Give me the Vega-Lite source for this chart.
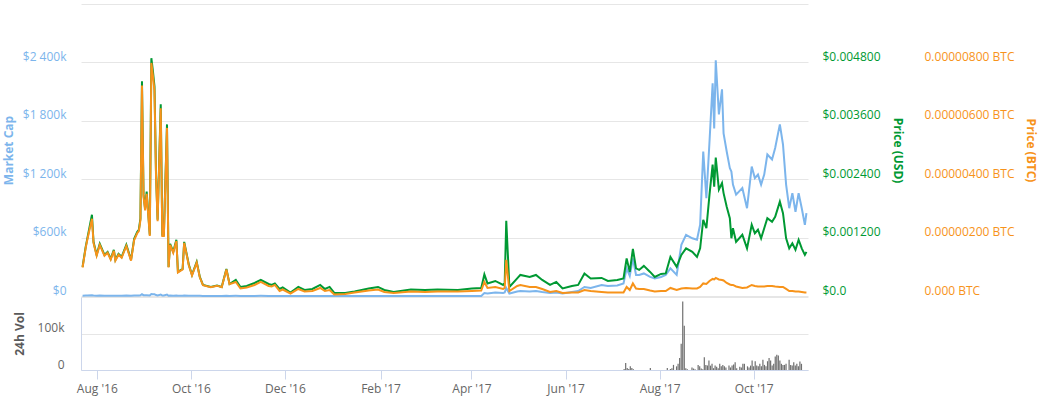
{
  "$schema": "https://vega.github.io/schema/vega-lite/v6.json",
  "padding": {"left": 2, "top": 4, "right": 5, "bottom": 3},
  "spacing": 1,
  "bounds": "flush",
  "config": {
    "view": {"stroke": null},
    "font": "Open Sans",
    "axis": {"labelFont": "Open Sans", "titleFont": "Open Sans", "labelFontSize": 12, "titleFontSize": 12, "titleFontWeight": "bold", "gridColor": "#e6e6e6", "ticks": false, "domain": false}
  },
  "datasets": {
    "p": [
      {"date": "2016-07-26", "mc": 2400, "usd": 0.000598, "btc": 9.76e-7},
      {"date": "2016-07-28", "mc": 4040, "usd": 0.001010, "btc": 1.650e-6},
      {"date": "2016-07-29", "mc": 4700, "usd": 0.001175, "btc": 1.919e-6},
      {"date": "2016-08-01", "mc": 6680, "usd": 0.001670, "btc": 2.646e-6},
      {"date": "2016-08-02", "mc": 4450, "usd": 0.001113, "btc": 1.818e-6},
      {"date": "2016-08-04", "mc": 3380, "usd": 0.000845, "btc": 1.380e-6},
      {"date": "2016-08-06", "mc": 4290, "usd": 0.001072, "btc": 1.751e-6},
      {"date": "2016-08-09", "mc": 3380, "usd": 0.000845, "btc": 1.380e-6},
      {"date": "2016-08-11", "mc": 3630, "usd": 0.000907, "btc": 1.481e-6},
      {"date": "2016-08-13", "mc": 3050, "usd": 0.000763, "btc": 1.246e-6},
      {"date": "2016-08-15", "mc": 3800, "usd": 0.000949, "btc": 1.549e-6},
      {"date": "2016-08-16", "mc": 2970, "usd": 0.000742, "btc": 1.212e-6},
      {"date": "2016-08-18", "mc": 3460, "usd": 0.000866, "btc": 1.414e-6},
      {"date": "2016-08-20", "mc": 3220, "usd": 0.000804, "btc": 1.313e-6},
      {"date": "2016-08-23", "mc": 4210, "usd": 0.001052, "btc": 1.717e-6},
      {"date": "2016-08-26", "mc": 2970, "usd": 0.000742, "btc": 1.212e-6},
      {"date": "2016-08-28", "mc": 4700, "usd": 0.001175, "btc": 1.919e-6},
      {"date": "2016-08-30", "mc": 5280, "usd": 0.001320, "btc": 2.155e-6},
      {"date": "2016-08-31", "mc": 5440, "usd": 0.001361, "btc": 2.222e-6},
      {"date": "2016-09-01", "mc": 6350, "usd": 0.001588, "btc": 2.593e-6},
      {"date": "2016-09-02", "mc": 17650, "usd": 0.004413, "btc": 7.205e-6},
      {"date": "2016-09-03", "mc": 8330, "usd": 0.002083, "btc": 3.401e-6},
      {"date": "2016-09-04", "mc": 7180, "usd": 0.001794, "btc": 2.929e-6},
      {"date": "2016-09-05", "mc": 8580, "usd": 0.002144, "btc": 3.502e-6},
      {"date": "2016-09-07", "mc": 5030, "usd": 0.001258, "btc": 2.054e-6},
      {"date": "2016-09-08", "mc": 19550, "usd": 0.004887, "btc": 7.980e-6},
      {"date": "2016-09-09", "mc": 18480, "usd": 0.004619, "btc": 7.542e-6},
      {"date": "2016-09-10", "mc": 17240, "usd": 0.004309, "btc": 7.037e-6},
      {"date": "2016-09-11", "mc": 9900, "usd": 0.002474, "btc": 4.040e-6},
      {"date": "2016-09-12", "mc": 6270, "usd": 0.001567, "btc": 2.559e-6},
      {"date": "2016-09-14", "mc": 15750, "usd": 0.003938, "btc": 6.431e-6},
      {"date": "2016-09-15", "mc": 5030, "usd": 0.001258, "btc": 2.054e-6},
      {"date": "2016-09-16", "mc": 5030, "usd": 0.001258, "btc": 2.054e-6},
      {"date": "2016-09-18", "mc": 14100, "usd": 0.003526, "btc": 5.757e-6},
      {"date": "2016-09-19", "mc": 2390, "usd": 0.000598, "btc": 9.76e-7},
      {"date": "2016-09-20", "mc": 4290, "usd": 0.001072, "btc": 1.751e-6},
      {"date": "2016-09-22", "mc": 3630, "usd": 0.000907, "btc": 1.481e-6},
      {"date": "2016-09-24", "mc": 4620, "usd": 0.001155, "btc": 1.886e-6},
      {"date": "2016-09-25", "mc": 1980, "usd": 0.000495, "btc": 8.08e-7},
      {"date": "2016-09-28", "mc": 2230, "usd": 0.000557, "btc": 9.09e-7},
      {"date": "2016-09-29", "mc": 4450, "usd": 0.001113, "btc": 1.818e-6},
      {"date": "2016-10-02", "mc": 2560, "usd": 0.000639, "btc": 1.044e-6},
      {"date": "2016-10-04", "mc": 1730, "usd": 0.000433, "btc": 7.07e-7},
      {"date": "2016-10-07", "mc": 2800, "usd": 0.000701, "btc": 1.145e-6},
      {"date": "2016-10-09", "mc": 1570, "usd": 0.000392, "btc": 6.40e-7},
      {"date": "2016-10-11", "mc": 910, "usd": 0.000227, "btc": 3.70e-7},
      {"date": "2016-10-16", "mc": 740, "usd": 0.000186, "btc": 3.03e-7},
      {"date": "2016-10-20", "mc": 870, "usd": 0.000217, "btc": 3.54e-7},
      {"date": "2016-10-23", "mc": 740, "usd": 0.000186, "btc": 3.03e-7},
      {"date": "2016-10-26", "mc": 2230, "usd": 0.000557, "btc": 9.09e-7},
      {"date": "2016-10-28", "mc": 990, "usd": 0.000247, "btc": 4.04e-7},
      {"date": "2016-11-01", "mc": 1320, "usd": 0.000330, "btc": 4.81e-7},
      {"date": "2016-11-04", "mc": 740, "usd": 0.000186, "btc": 2.58e-7},
      {"date": "2016-11-08", "mc": 820, "usd": 0.000206, "btc": 2.92e-7},
      {"date": "2016-11-13", "mc": 1070, "usd": 0.000268, "btc": 3.78e-7},
      {"date": "2016-11-17", "mc": 1320, "usd": 0.000330, "btc": 4.81e-7},
      {"date": "2016-11-22", "mc": 990, "usd": 0.000247, "btc": 3.44e-7},
      {"date": "2016-11-24", "mc": 910, "usd": 0.000227, "btc": 3.26e-7},
      {"date": "2016-11-26", "mc": 1030, "usd": 0.000258, "btc": 3.78e-7},
      {"date": "2016-11-29", "mc": 580, "usd": 0.000144, "btc": 1.72e-7},
      {"date": "2016-12-01", "mc": 700, "usd": 0.000175, "btc": 2.23e-7},
      {"date": "2016-12-06", "mc": 290, "usd": 0.0000722, "btc": 8.6e-8},
      {"date": "2016-12-11", "mc": 740, "usd": 0.000186, "btc": 2.41e-7},
      {"date": "2016-12-15", "mc": 500, "usd": 0.000124, "btc": 1.55e-7},
      {"date": "2016-12-20", "mc": 580, "usd": 0.000144, "btc": 1.72e-7},
      {"date": "2016-12-25", "mc": 910, "usd": 0.000227, "btc": 2.75e-7},
      {"date": "2016-12-28", "mc": 580, "usd": 0.000144, "btc": 1.72e-7},
      {"date": "2016-12-31", "mc": 740, "usd": 0.000186, "btc": 2.06e-7},
      {"date": "2017-01-03", "mc": 250, "usd": 0.0000619, "btc": 5.2e-8},
      {"date": "2017-01-10", "mc": 250, "usd": 0.0000619, "btc": 6.9e-8},
      {"date": "2017-01-16", "mc": 370, "usd": 0.0000928, "btc": 1.20e-7},
      {"date": "2017-01-25", "mc": 620, "usd": 0.000155, "btc": 1.89e-7},
      {"date": "2017-01-31", "mc": 740, "usd": 0.000186, "btc": 2.23e-7},
      {"date": "2017-02-04", "mc": 500, "usd": 0.000124, "btc": 1.37e-7},
      {"date": "2017-02-10", "mc": 330, "usd": 0.0000825, "btc": 1.03e-7},
      {"date": "2017-02-21", "mc": 540, "usd": 0.000134, "btc": 1.55e-7},
      {"date": "2017-03-02", "mc": 500, "usd": 0.000124, "btc": 1.37e-7},
      {"date": "2017-03-10", "mc": 540, "usd": 0.000134, "btc": 1.55e-7},
      {"date": "2017-03-23", "mc": 500, "usd": 0.000124, "btc": 1.55e-7},
      {"date": "2017-04-01", "mc": 620, "usd": 0.000155, "btc": 1.72e-7},
      {"date": "2017-04-07", "mc": 660, "usd": 0.000165, "btc": 1.89e-7},
      {"date": "2017-04-09", "mc": 30900, "usd": 0.000443, "btc": 4.81e-7},
      {"date": "2017-04-11", "mc": 25800, "usd": 0.000258, "btc": 2.75e-7},
      {"date": "2017-04-16", "mc": 36100, "usd": 0.000309, "btc": 3.09e-7},
      {"date": "2017-04-21", "mc": 30900, "usd": 0.000227, "btc": 2.41e-7},
      {"date": "2017-04-22", "mc": 36100, "usd": 0.000268, "btc": 2.75e-7},
      {"date": "2017-04-23", "mc": 82500, "usd": 0.001547, "btc": 1.237e-6},
      {"date": "2017-04-25", "mc": 25800, "usd": 0.000186, "btc": 1.72e-7},
      {"date": "2017-04-30", "mc": 46400, "usd": 0.000361, "btc": 3.44e-7},
      {"date": "2017-05-02", "mc": 51500, "usd": 0.000433, "btc": 3.78e-7},
      {"date": "2017-05-08", "mc": 46400, "usd": 0.000392, "btc": 3.09e-7},
      {"date": "2017-05-12", "mc": 51500, "usd": 0.000433, "btc": 3.09e-7},
      {"date": "2017-05-16", "mc": 41200, "usd": 0.000330, "btc": 2.41e-7},
      {"date": "2017-05-21", "mc": 30900, "usd": 0.000227, "btc": 1.37e-7},
      {"date": "2017-05-25", "mc": 36100, "usd": 0.000289, "btc": 1.72e-7},
      {"date": "2017-05-29", "mc": 25800, "usd": 0.000155, "btc": 1.03e-7},
      {"date": "2017-06-04", "mc": 41200, "usd": 0.000206, "btc": 1.20e-7},
      {"date": "2017-06-08", "mc": 51500, "usd": 0.000227, "btc": 1.20e-7},
      {"date": "2017-06-12", "mc": 92800, "usd": 0.000464, "btc": 2.06e-7},
      {"date": "2017-06-16", "mc": 82500, "usd": 0.000361, "btc": 1.72e-7},
      {"date": "2017-06-23", "mc": 113400, "usd": 0.000371, "btc": 1.37e-7},
      {"date": "2017-06-27", "mc": 103100, "usd": 0.000309, "btc": 1.20e-7},
      {"date": "2017-07-03", "mc": 108200, "usd": 0.000330, "btc": 1.20e-7},
      {"date": "2017-07-07", "mc": 128900, "usd": 0.000361, "btc": 1.20e-7},
      {"date": "2017-07-09", "mc": 283500, "usd": 0.000773, "btc": 3.09e-7},
      {"date": "2017-07-11", "mc": 206200, "usd": 0.000495, "btc": 2.06e-7},
      {"date": "2017-07-13", "mc": 386600, "usd": 0.000969, "btc": 4.30e-7},
      {"date": "2017-07-15", "mc": 216500, "usd": 0.000567, "btc": 2.58e-7},
      {"date": "2017-07-17", "mc": 216500, "usd": 0.000536, "btc": 2.41e-7},
      {"date": "2017-07-20", "mc": 231900, "usd": 0.000619, "btc": 2.41e-7},
      {"date": "2017-07-24", "mc": 195900, "usd": 0.000495, "btc": 1.89e-7},
      {"date": "2017-07-27", "mc": 180400, "usd": 0.000392, "btc": 1.55e-7},
      {"date": "2017-07-31", "mc": 195900, "usd": 0.000454, "btc": 1.72e-7},
      {"date": "2017-08-03", "mc": 216500, "usd": 0.000464, "btc": 1.72e-7},
      {"date": "2017-08-06", "mc": 283500, "usd": 0.000804, "btc": 2.75e-7},
      {"date": "2017-08-10", "mc": 216500, "usd": 0.000598, "btc": 2.06e-7},
      {"date": "2017-08-13", "mc": 525800, "usd": 0.000845, "btc": 2.58e-7},
      {"date": "2017-08-16", "mc": 628800, "usd": 0.000979, "btc": 2.75e-7},
      {"date": "2017-08-20", "mc": 592800, "usd": 0.000907, "btc": 2.58e-7},
      {"date": "2017-08-23", "mc": 577300, "usd": 0.000804, "btc": 2.58e-7},
      {"date": "2017-08-25", "mc": 731900, "usd": 0.000979, "btc": 3.09e-7},
      {"date": "2017-08-27", "mc": 1484500, "usd": 0.001567, "btc": 4.30e-7},
      {"date": "2017-08-29", "mc": 1005100, "usd": 0.001392, "btc": 4.12e-7},
      {"date": "2017-08-31", "mc": 1587600, "usd": 0.002083, "btc": 5.15e-7},
      {"date": "2017-09-02", "mc": 2185500, "usd": 0.002701, "btc": 5.84e-7},
      {"date": "2017-09-03", "mc": 1721600, "usd": 0.002248, "btc": 5.67e-7},
      {"date": "2017-09-04", "mc": 2422600, "usd": 0.002846, "btc": 6.19e-7},
      {"date": "2017-09-06", "mc": 1865900, "usd": 0.002186, "btc": 5.67e-7},
      {"date": "2017-09-08", "mc": 2123700, "usd": 0.002320, "btc": 5.50e-7},
      {"date": "2017-09-09", "mc": 1670100, "usd": 0.002114, "btc": 5.33e-7},
      {"date": "2017-09-11", "mc": 1484500, "usd": 0.001835, "btc": 4.47e-7},
      {"date": "2017-09-13", "mc": 1314400, "usd": 0.001598, "btc": 3.95e-7},
      {"date": "2017-09-14", "mc": 1278300, "usd": 0.001186, "btc": 3.78e-7},
      {"date": "2017-09-15", "mc": 1144300, "usd": 0.001392, "btc": 3.78e-7},
      {"date": "2017-09-17", "mc": 1041200, "usd": 0.001113, "btc": 3.26e-7},
      {"date": "2017-09-21", "mc": 1108200, "usd": 0.001258, "btc": 2.75e-7},
      {"date": "2017-09-24", "mc": 902000, "usd": 0.000979, "btc": 2.92e-7},
      {"date": "2017-09-27", "mc": 1329900, "usd": 0.001464, "btc": 3.78e-7},
      {"date": "2017-09-29", "mc": 1211300, "usd": 0.001289, "btc": 3.44e-7},
      {"date": "2017-10-01", "mc": 1247400, "usd": 0.001361, "btc": 3.26e-7},
      {"date": "2017-10-03", "mc": 1144300, "usd": 0.001186, "btc": 3.26e-7},
      {"date": "2017-10-05", "mc": 1247400, "usd": 0.001392, "btc": 3.26e-7},
      {"date": "2017-10-07", "mc": 1453600, "usd": 0.001598, "btc": 3.44e-7},
      {"date": "2017-10-10", "mc": 1402000, "usd": 0.001526, "btc": 3.44e-7},
      {"date": "2017-10-12", "mc": 1520600, "usd": 0.001629, "btc": 3.26e-7},
      {"date": "2017-10-15", "mc": 1762800, "usd": 0.001938, "btc": 3.09e-7},
      {"date": "2017-10-17", "mc": 1556700, "usd": 0.001701, "btc": 3.09e-7},
      {"date": "2017-10-19", "mc": 1144300, "usd": 0.001186, "btc": 2.41e-7},
      {"date": "2017-10-21", "mc": 902000, "usd": 0.000979, "btc": 1.72e-7},
      {"date": "2017-10-23", "mc": 1056700, "usd": 0.001083, "btc": 1.72e-7},
      {"date": "2017-10-25", "mc": 866000, "usd": 0.000949, "btc": 1.55e-7},
      {"date": "2017-10-27", "mc": 1056700, "usd": 0.001155, "btc": 1.55e-7},
      {"date": "2017-10-29", "mc": 902000, "usd": 0.000979, "btc": 1.37e-7},
      {"date": "2017-10-31", "mc": 731900, "usd": 0.000845, "btc": 1.20e-7},
      {"date": "2017-11-01", "mc": 850500, "usd": 0.000907, "btc": 1.20e-7}
    ],
    "v": [
      {"date": "2017-07-09", "vol": 3000},
      {"date": "2017-07-10", "vol": 19000},
      {"date": "2017-07-11", "vol": 5500},
      {"date": "2017-07-12", "vol": 3000},
      {"date": "2017-07-13", "vol": 10000},
      {"date": "2017-07-14", "vol": 5500},
      {"date": "2017-07-15", "vol": 2000},
      {"date": "2017-07-26", "vol": 5500},
      {"date": "2017-08-06", "vol": 5500},
      {"date": "2017-08-08", "vol": 2500},
      {"date": "2017-08-09", "vol": 5000},
      {"date": "2017-08-10", "vol": 14000},
      {"date": "2017-08-12", "vol": 10000},
      {"date": "2017-08-13", "vol": 17000},
      {"date": "2017-08-14", "vol": 33000},
      {"date": "2017-08-15", "vol": 72000},
      {"date": "2017-08-16", "vol": 188000},
      {"date": "2017-08-17", "vol": 121000},
      {"date": "2017-08-18", "vol": 5000},
      {"date": "2017-08-19", "vol": 2000},
      {"date": "2017-08-22", "vol": 7000},
      {"date": "2017-08-23", "vol": 4000},
      {"date": "2017-08-24", "vol": 2000},
      {"date": "2017-08-26", "vol": 14000},
      {"date": "2017-08-27", "vol": 10000},
      {"date": "2017-08-28", "vol": 4000},
      {"date": "2017-08-29", "vol": 2000},
      {"date": "2017-08-30", "vol": 35000},
      {"date": "2017-08-31", "vol": 14000},
      {"date": "2017-09-01", "vol": 12000},
      {"date": "2017-09-02", "vol": 26000},
      {"date": "2017-09-03", "vol": 12000},
      {"date": "2017-09-04", "vol": 17000},
      {"date": "2017-09-05", "vol": 5000},
      {"date": "2017-09-06", "vol": 12000},
      {"date": "2017-09-07", "vol": 9000},
      {"date": "2017-09-08", "vol": 5000},
      {"date": "2017-09-09", "vol": 17000},
      {"date": "2017-09-10", "vol": 10000},
      {"date": "2017-09-11", "vol": 14000},
      {"date": "2017-09-12", "vol": 10000},
      {"date": "2017-09-13", "vol": 7000},
      {"date": "2017-09-15", "vol": 12000},
      {"date": "2017-09-16", "vol": 7000},
      {"date": "2017-09-17", "vol": 12000},
      {"date": "2017-09-18", "vol": 15000},
      {"date": "2017-09-19", "vol": 21000},
      {"date": "2017-09-20", "vol": 5000},
      {"date": "2017-09-22", "vol": 9000},
      {"date": "2017-09-23", "vol": 7000},
      {"date": "2017-09-24", "vol": 17000},
      {"date": "2017-09-25", "vol": 17000},
      {"date": "2017-09-27", "vol": 10000},
      {"date": "2017-09-28", "vol": 7000},
      {"date": "2017-09-29", "vol": 12000},
      {"date": "2017-09-30", "vol": 26000},
      {"date": "2017-10-01", "vol": 10000},
      {"date": "2017-10-02", "vol": 24000},
      {"date": "2017-10-03", "vol": 12000},
      {"date": "2017-10-04", "vol": 10000},
      {"date": "2017-10-05", "vol": 17000},
      {"date": "2017-10-06", "vol": 10000},
      {"date": "2017-10-07", "vol": 28000},
      {"date": "2017-10-08", "vol": 14000},
      {"date": "2017-10-09", "vol": 10000},
      {"date": "2017-10-10", "vol": 24000},
      {"date": "2017-10-11", "vol": 33000},
      {"date": "2017-10-12", "vol": 26000},
      {"date": "2017-10-13", "vol": 12000},
      {"date": "2017-10-14", "vol": 17000},
      {"date": "2017-10-15", "vol": 37000},
      {"date": "2017-10-16", "vol": 42000},
      {"date": "2017-10-17", "vol": 40000},
      {"date": "2017-10-18", "vol": 26000},
      {"date": "2017-10-19", "vol": 17000},
      {"date": "2017-10-20", "vol": 14000},
      {"date": "2017-10-21", "vol": 14000},
      {"date": "2017-10-22", "vol": 17000},
      {"date": "2017-10-24", "vol": 28000},
      {"date": "2017-10-25", "vol": 14000},
      {"date": "2017-10-26", "vol": 12000},
      {"date": "2017-10-27", "vol": 21000},
      {"date": "2017-10-28", "vol": 12000},
      {"date": "2017-10-29", "vol": 17000},
      {"date": "2017-10-30", "vol": 10000},
      {"date": "2017-10-31", "vol": 23000},
      {"date": "2017-11-01", "vol": 17000}
    ]
  },
  "vconcat": [
    {
      "width": 727,
      "height": 292,
      "data": {"name": "p"},
      "encoding": {
        "x": {"field": "date", "type": "temporal", "axis": null,
          "scale": {"type": "utc", "domain": [{"year": 2016, "month": 7, "date": 25, "utc": true}, {"year": 2017, "month": 11, "date": 2, "utc": true}]}}
      },
      "layer": [
        {
          "mark": {"type": "line", "color": "#7cb5ec", "strokeWidth": 2},
          "encoding": {
            "y": {"field": "mc", "type": "quantitative",
              "scale": {"domain": [0, 3000000], "nice": false},
              "axis": {"orient": "left", "values": [0, 600000, 1200000, 1800000, 2400000, 3000000],
                "labelExpr": "datum.value == 0 ? '$0' : datum.value > 2900000 ? '' : '$' + replace(format(datum.value / 1000, ','), ',', ' ') + 'k'",
                "labelColor": "#7cb5ec", "labelPadding": 15, "labelBaseline": "alphabetic", "labelOffset": -2,
                "grid": true, "title": "Market Cap", "titleColor": "#7cb5ec", "titlePadding": 7}}
          }
        },
        {
          "mark": {"type": "line", "color": "#009933", "strokeWidth": 2},
          "encoding": {
            "y": {"field": "usd", "type": "quantitative",
              "scale": {"domain": [0, 0.006], "nice": false},
              "axis": {"orient": "right", "values": [0, 0.0012, 0.0024, 0.0036, 0.0048, 0.006],
                "labelExpr": "datum.value == 0 ? '$0.0' : datum.value > 0.0055 ? '' : '$' + format(datum.value, '.6f')",
                "labelColor": "#009933", "labelPadding": 14, "labelBaseline": "alphabetic", "labelOffset": -2,
                "grid": false, "title": "Price (USD)", "titleColor": "#009933", "titlePadding": 10}}
          }
        },
        {
          "mark": {"type": "line", "color": "#f7931a", "strokeWidth": 2},
          "encoding": {
            "y": {"field": "btc", "type": "quantitative",
              "scale": {"domain": [0, 0.00001], "nice": false},
              "axis": {"orient": "right", "offset": 102, "values": [0, 0.000002, 0.000004, 0.000006, 0.000008, 0.00001],
                "labelExpr": "datum.value == 0 ? '0.000 BTC' : datum.value > 0.0000095 ? '' : format(datum.value, '.8f') + ' BTC'",
                "labelColor": "#f7931a", "labelPadding": 14, "labelBaseline": "alphabetic", "labelOffset": -2,
                "grid": false, "title": "Price (BTC)", "titleColor": "#f7931a", "titlePadding": 10}}
          }
        }
      ],
      "resolve": {"scale": {"y": "independent"}, "axis": {"y": "independent"}}
    },
    {
      "width": 727,
      "height": 73,
      "data": {"name": "v"},
      "mark": {"type": "bar", "color": "#707070", "size": 1.2},
      "encoding": {
        "x": {"field": "date", "type": "temporal",
          "scale": {"type": "utc", "domain": [{"year": 2016, "month": 7, "date": 25, "utc": true}, {"year": 2017, "month": 11, "date": 2, "utc": true}]},
          "axis": {"values": [
              {"year": 2016, "month": 8, "date": 1, "utc": true},
              {"year": 2016, "month": 10, "date": 1, "utc": true},
              {"year": 2016, "month": 12, "date": 1, "utc": true},
              {"year": 2017, "month": 2, "date": 1, "utc": true},
              {"year": 2017, "month": 4, "date": 1, "utc": true},
              {"year": 2017, "month": 6, "date": 1, "utc": true},
              {"year": 2017, "month": 8, "date": 1, "utc": true},
              {"year": 2017, "month": 10, "date": 1, "utc": true}],
            "labelExpr": "utcFormat(datum.value, \"%b '%y\")",
            "domain": true, "domainColor": "#ccd6eb", "ticks": true, "tickColor": "#ccd6eb", "tickSize": 9,
            "labelPadding": 4, "labelColor": "#666666", "grid": false, "title": null}},
        "y": {"field": "vol", "type": "quantitative",
          "scale": {"domain": [0, 200000], "nice": false},
          "axis": {"values": [0, 100000, 200000],
            "labelExpr": "datum.value == 0 ? '0' : datum.value > 150000 ? '' : (datum.value / 1000) + 'k'",
            "labelColor": "#666666", "labelPadding": 17, "labelBaseline": "alphabetic", "labelOffset": -2,
            "domain": true, "domainColor": "#ccd6eb", "grid": true,
            "title": "24h Vol", "titleColor": "#5a5a5a", "titlePadding": 11}}
      }
    }
  ]
}
